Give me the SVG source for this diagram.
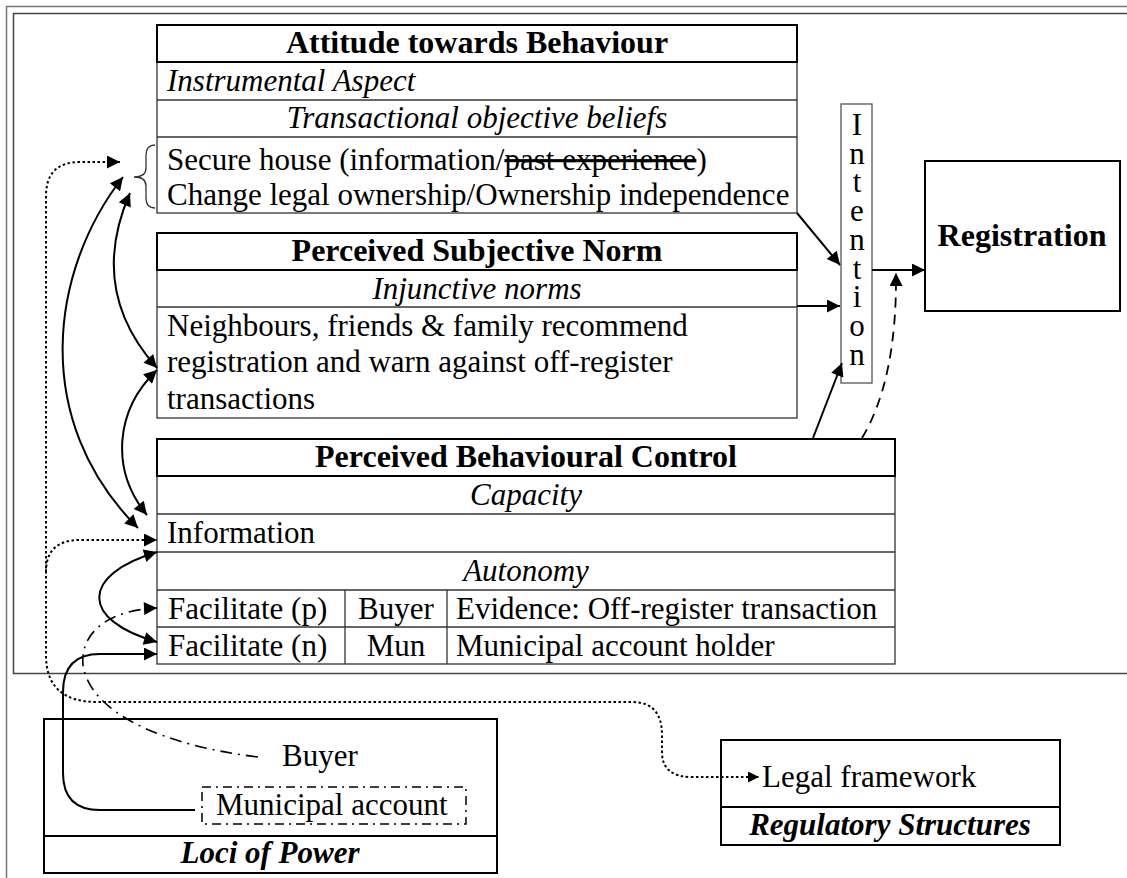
<svg xmlns="http://www.w3.org/2000/svg" width="1127" height="878" viewBox="0 0 1127 878">
<style>
text{font-family:"Liberation Serif","Times New Roman",serif;font-size:31px;fill:#000}
.b{font-weight:bold;font-size:32px}
.i{font-style:italic}
.bi{font-weight:bold;font-style:italic}
.c{text-anchor:middle}
.box{fill:#fff;stroke:#333;stroke-width:1.3}
.hd{fill:none;stroke:#000;stroke-width:2}
.thick{fill:#fff;stroke:#000;stroke-width:2}
.ln{stroke:#333;stroke-width:1.3;fill:none}
.con{fill:none;stroke:#000;stroke-width:2}
.dot{fill:none;stroke:#000;stroke-width:2;stroke-dasharray:2.5 2.5}
.dash{fill:none;stroke:#000;stroke-width:1.8;stroke-dasharray:10 7}
.dd{fill:none;stroke:#000;stroke-width:1.6;stroke-dasharray:12 6 2 6}
.ddb{fill:none;stroke:#000;stroke-width:1.5;stroke-dasharray:9 5 2 5}
.frame{fill:none;stroke:#777;stroke-width:1.5}
.frame2{fill:none;stroke:#444;stroke-width:1.5}
</style>
<defs>
<marker id="ah" viewBox="0 0 10 10" refX="10" refY="5" markerUnits="userSpaceOnUse" markerWidth="16" markerHeight="13" orient="auto-start-reverse"><path d="M0,0 L10,5 L0,10 z" fill="#000"/></marker>
<marker id="ahs" viewBox="0 0 10 10" refX="10" refY="5" markerUnits="userSpaceOnUse" markerWidth="14" markerHeight="11" orient="auto-start-reverse"><path d="M0,0 L10,5 L0,10 z" fill="#000"/></marker>
</defs>
<rect x="0" y="0" width="1127" height="878" fill="#fff"/>
<g id="frames">
<rect class="frame" x="6.5" y="6.5" width="1200" height="1000"/>
<rect class="frame2" x="13.5" y="13.5" width="1200" height="660"/>
</g>

<g id="attitude">
<rect class="box" x="157" y="25" width="640" height="188"/>
<rect class="hd" x="157" y="25" width="640" height="37"/>
<line class="ln" x1="157" y1="100" x2="797" y2="100"/>
<line class="ln" x1="157" y1="137" x2="797" y2="137"/>
<text class="b c" x="477" y="53">Attitude towards Behaviour</text>
<text class="i" x="167" y="91">Instrumental Aspect</text>
<text class="i c" x="477" y="128">Transactional objective beliefs</text>
<text x="167" y="170">Secure house (information/<tspan style="text-decoration:line-through">past experience</tspan>)</text>
<text x="167" y="205">Change legal ownership/Ownership independence</text>
<path class="ln" d="M155 145 Q146 145 146 155 L146 168 Q146 177 134 177 Q146 177 146 186 L146 198 Q146 208 155 208" stroke-width="1"/>
</g>

<g id="subjective-norm">
<rect class="box" x="157" y="233" width="640" height="185"/>
<rect class="hd" x="157" y="233" width="640" height="37"/>
<line class="ln" x1="157" y1="307" x2="797" y2="307"/>
<text class="b c" x="477" y="261">Perceived Subjective Norm</text>
<text class="i c" x="477" y="299">Injunctive norms</text>
<text x="167" y="336">Neighbours, friends &amp; family recommend</text>
<text x="167" y="372">registration and warn against off-register</text>
<text x="167" y="409">transactions</text>
</g>

<g id="pbc">
<rect class="box" x="157" y="439" width="738" height="225"/>
<rect class="hd" x="157" y="439" width="738" height="37"/>
<line class="ln" x1="157" y1="514" x2="895" y2="514"/>
<line class="ln" x1="157" y1="552" x2="895" y2="552"/>
<line class="ln" x1="157" y1="590" x2="895" y2="590"/>
<line class="ln" x1="157" y1="627" x2="895" y2="627"/>
<line class="ln" x1="345" y1="590" x2="345" y2="664"/>
<line class="ln" x1="447" y1="590" x2="447" y2="664"/>
<text class="b c" x="526" y="467">Perceived Behavioural Control</text>
<text class="i c" x="526" y="505">Capacity</text>
<text x="167" y="543">Information</text>
<text class="i c" x="526" y="581">Autonomy</text>
<text x="168" y="619">Facilitate (p)</text>
<text class="c" x="396" y="619">Buyer</text>
<text x="456" y="619">Evidence: Off-register transaction</text>
<text x="168" y="656">Facilitate (n)</text>
<text class="c" x="396" y="656">Mun</text>
<text x="456" y="656">Municipal account holder</text>
</g>

<g id="intention">
<rect x="841" y="104" width="31" height="279" fill="#fff" stroke="#555" stroke-width="1.3"/>
<text class="c" x="857" y="135">I</text>
<text class="c" x="857" y="164">n</text>
<text class="c" x="857" y="192">t</text>
<text class="c" x="857" y="221">e</text>
<text class="c" x="857" y="250">n</text>
<text class="c" x="857" y="279">t</text>
<text class="c" x="857" y="307">i</text>
<text class="c" x="857" y="336">o</text>
<text class="c" x="857" y="365">n</text>
</g>

<g id="registration">
<rect class="thick" x="925" y="161" width="195" height="150"/>
<text class="b c" x="1022" y="246">Registration</text>
</g>

<g id="loci-of-power">
<rect class="thick" x="44" y="719" width="453" height="154"/>
<line x1="44" y1="836" x2="497" y2="836" stroke="#000" stroke-width="2"/>
<text class="bi c" x="270" y="863">Loci of Power</text>
<text x="282" y="766">Buyer</text>
<rect class="ddb" x="202" y="787" width="264" height="37"/>
<text x="216" y="815">Municipal account</text>
</g>

<g id="regulatory-structures">
<rect class="thick" x="721" y="740" width="339" height="105"/>
<line x1="721" y1="807" x2="1060" y2="807" stroke="#000" stroke-width="2"/>
<text x="762" y="787">Legal framework</text>
<text class="bi c" x="890" y="835">Regulatory Structures</text>
</g>

<g id="connectors">
<path class="con" d="M797 213 L840 265" marker-end="url(#ah)"/>
<path class="con" d="M797 306 L840 306" marker-end="url(#ah)"/>
<path class="con" d="M813 438 L842 363" marker-end="url(#ah)"/>
<path class="con" d="M872 270 L925 270" marker-end="url(#ah)"/>
<path class="dash" d="M862 438 Q897 380 896 273" marker-end="url(#ah)"/>
<path class="con" d="M123 177 C50 270 30 420 138 528" marker-start="url(#ah)" marker-end="url(#ah)"/>
<path class="con" d="M130 193 C105 250 105 310 157 368" marker-start="url(#ah)" marker-end="url(#ah)"/>
<path class="con" d="M157 370 C115 410 110 470 147 515" marker-start="url(#ah)" marker-end="url(#ah)"/>
<path class="con" d="M157 552 C80 575 80 620 157 642" marker-start="url(#ah)" marker-end="url(#ah)"/>
<path class="con" d="M195 810 L100 810 Q63 810 63 773 L63 692 Q63 654 100 654 L157 654" marker-end="url(#ah)"/>
<path class="dd" d="M258 757 C160 745 90 712 83 665 C80 630 112 610 157 608" marker-end="url(#ah)"/>
<path class="dot" d="M120 162 L80 162 Q46 162 46 196 L46 655 Q46 702 97 702 L632 702 Q662 702 662 735 L662 752 Q662 777 692 777 L759 777" marker-start="url(#ah)" marker-end="url(#ahs)"/>
<path class="dot" d="M46 572 Q46 540 80 540 L157 540" marker-end="url(#ah)"/>
</g>
</svg>
